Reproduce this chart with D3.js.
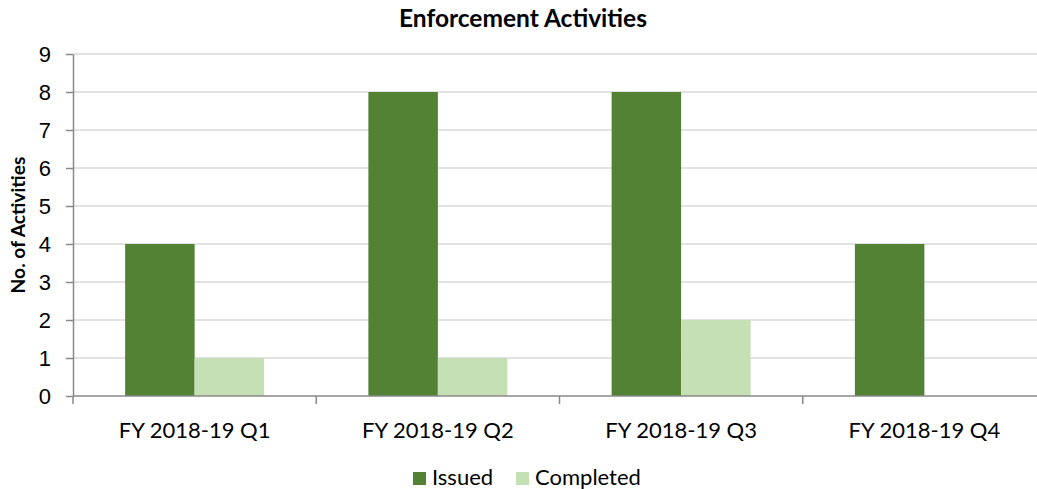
<!DOCTYPE html>
<meta charset="utf-8">
<style>
body { margin: 0; background: #fff; }
svg { font-family: Lato, "Open Sans", sans-serif; }
.axis path, .axis line { stroke: #898989; }
.grid line { stroke: #d9d9d9; }
</style>
<svg width="1037" height="489"></svg>
<script src="https://d3js.org/d3.v7.min.js"></script>
<script>

var categories = ["FY 2018-19 Q1", "FY 2018-19 Q2", "FY 2018-19 Q3", "FY 2018-19 Q4"],
    seriesNames = ["Issued", "Completed"],
    issued = [4, 8, 8, 4],
    completed = [1, 1, 2, 0],
    yTicks = [0, 1, 2, 3, 4, 5, 6, 7, 8, 9];

var colors = {Issued: "#548235", Completed: "#c5e0b4"};

var svg = d3.select("svg"),
    margin = {top: 54, left: 73},
    plotW = 973,
    plotH = 342;

var g = svg.append("g")
    .attr("transform", "translate(" + margin.left + "," + margin.top + ")");

var x = d3.scaleBand().domain(categories).range([0, plotW]),
    x1 = d3.scaleBand().domain(seriesNames).range([0, x.bandwidth()]).paddingInner(0).paddingOuter(0.75),
    y = d3.scaleLinear().domain([0, 9]).range([plotH, 0]);

// gridlines
g.append("g")
    .attr("class", "grid")
    .selectAll("line")
    .data(yTicks.slice(1))
    .enter().append("line")
    .attr("x1", 0).attr("x2", plotW)
    .attr("y1", function(d) { return y(d); })
    .attr("y2", function(d) { return y(d); })
    .attr("stroke-width", 1.3);

var rows = categories.map(function(c, i) {
    return {cat: c, values: [{k: "Issued", v: issued[i]}, {k: "Completed", v: completed[i]}]};
});

g.append("g").selectAll("g")
    .data(rows)
    .enter().append("g")
    .attr("transform", function(d) { return "translate(" + x(d.cat) + ",0)"; })
    .selectAll("rect")
    .data(function(d) { return d.values; })
    .enter().append("rect")
    .attr("x", function(d) { return x1(d.k); })
    .attr("width", x1.bandwidth())
    .attr("y", function(d) { return y(d.v); })
    .attr("height", function(d) { return plotH - y(d.v); })
    .attr("fill", function(d) { return colors[d.k]; });

// y axis
var yAxis = g.append("g")
    .attr("class", "axis")
    .call(d3.axisLeft(y).tickValues(yTicks).tickSize(7).tickSizeOuter(0).tickPadding(15));
yAxis.select(".domain").attr("stroke-width", 1.5);
yAxis.selectAll("line").attr("stroke-width", 1.5);
yAxis.selectAll("text").attr("font-size", 22).attr("fill", "#000");

// x axis: ticks at category boundaries
var xAxis = g.append("g")
    .attr("class", "axis")
    .attr("transform", "translate(0," + plotH + ")");
xAxis.append("line").attr("x1", 0).attr("x2", plotW).attr("stroke-width", 1.5);
xAxis.selectAll(".bound")
    .data(categories)
    .enter().append("line")
    .attr("class", "bound")
    .attr("x1", function(d) { return x(d); })
    .attr("x2", function(d) { return x(d); })
    .attr("y1", 0).attr("y2", 8)
    .attr("stroke-width", 1.5);
xAxis.selectAll("text")
    .data(categories)
    .enter().append("text")
    .attr("x", function(d) { return x(d) + x.bandwidth() / 2; })
    .attr("y", 42)
    .attr("text-anchor", "middle")
    .attr("font-size", 22)
    .text(function(d) { return d; });

// title
svg.append("text")
    .attr("x", 523).attr("y", 27)
    .attr("text-anchor", "middle")
    .attr("font-weight", "bold")
    .attr("font-size", 24.5)
    .text("Enforcement Activities");

// y label
svg.append("text")
    .attr("transform", "translate(25,225) rotate(-90)")
    .attr("text-anchor", "middle")
    .attr("font-weight", "bold")
    .attr("font-size", 19.2)
    .text("No. of Activities");

// legend
var legend = svg.append("g").attr("transform", "translate(413,472)");
var lx = [0, 103];
seriesNames.forEach(function(s, i) {
    legend.append("rect").attr("x", lx[i]).attr("y", 0).attr("width", 13).attr("height", 13).attr("fill", colors[s]);
    legend.append("text").attr("x", lx[i] + 19).attr("y", 12.5).attr("font-size", 22).text(s);
});

</script>
